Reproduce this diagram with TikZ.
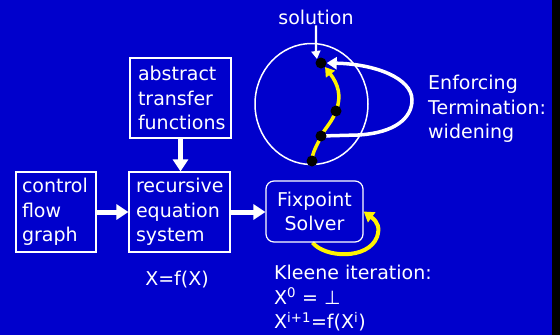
\documentclass[tikz,border=0pt]{standalone}
\usepackage{fontspec}
\setmainfont{DejaVu Sans}
\usetikzlibrary{arrows.meta,shapes.geometric}
\definecolor{bgblue}{RGB}{0,0,204}
\pgfdeclarelayer{bg}
\pgfdeclarelayer{mid}
\pgfsetlayers{bg,mid,main}
\begin{document}
\begin{tikzpicture}[x=1pt,y=-1pt,
  txt/.style={font=\fontsize{19}{24.5}\selectfont, text=white},
  box/.style={txt, draw=white, line width=1.2pt, align=left, minimum height=80pt},
  bigarrow/.style={white, line width=5pt, -{Triangle[width=15pt,length=12pt]}},
  dot/.style={circle, fill=black, inner sep=0pt, minimum size=11pt}]
\begin{pgfonlayer}{bg}
\fill[bgblue] (0,0) rectangle (552,335);
\fill[black] (552,0) rectangle (560,335);
\end{pgfonlayer}
\useasboundingbox (0,0) rectangle (560,335);

% boxes
\node[box, inner xsep=6pt, text width=68pt] (cfg) at (56,212) {control\\flow\\graph};
\node[box, inner xsep=7pt, text width=87pt] (res) at (179.5,212) {recursive\\equation\\system};
\node[box, inner xsep=8pt, text width=85pt] (atf) at (180.5,98) {abstract\\transfer\\functions};
\node[txt, draw=white, line width=1.2pt, rounded corners=8pt, align=center,
      minimum width=97pt, minimum height=61pt] (fix) at (314.5,211.5) {Fixpoint\\Solver};

\draw[bigarrow] (cfg.east) -- (res.west);
\draw[bigarrow] (atf.south) -- (atf.south |- res.north);
\draw[bigarrow] (res.east) -- (res.east -| fix.west);

% texts
\node[txt, anchor=base] (xfx) at (177,285) {X=f(X)};
\node[txt, anchor=north west, inner sep=0pt, align=left] (kleene) at (274,265)
  {Kleene iteration:\\X\textsuperscript{0} = ⊥\\X\textsuperscript{i+1}=f(X\textsuperscript{i})};
\node[txt, anchor=north west, inner sep=0pt, align=left] (enf) at (428,75)
  {Enforcing\\Termination:\\widening};
\node[txt, anchor=base, inner sep=1pt] (sol) at (316,24) {solution};

% lattice
\node[draw=white, line width=1.5pt, ellipse, minimum width=113pt, minimum height=121pt, inner sep=0pt] (lat) at (311.5,104) {};
\node[dot] (d1) at (321,63) {};
\node[dot] (d2) at (336,111) {};
\node[dot] (d3) at (321,136) {};
\node[dot] (d4) at (312,161) {};

\begin{pgfonlayer}{mid}
\draw[yellow, line width=3.5pt, -{Triangle[width=11pt,length=9pt]}]
  (d4.center) .. controls (312,152) and (318,144) .. (d3.center)
  .. controls (326,127) and (332,122) .. (d2.center)
  .. controls (342,96) and (338,84) .. (d1.south east);
\draw[white, line width=3.5pt, -{Triangle[width=12pt,length=10pt]}]
  (d3.center) -- (358,135) .. controls (395,133) and (412,118) .. (412,100)
  .. controls (412,78) and (375,64) .. (d1.east);
\draw[white, line width=2.2pt, -{Triangle[width=9pt,length=8pt]}]
  (sol.south) .. controls (316,45) and (316,52) .. (d1.north west);
\draw[yellow, line width=4pt, -{Triangle[width=12pt,length=10pt]}]
  ([xshift=-2pt]fix.south) .. controls (325,258) and (368,260) .. (377,237)
  .. controls (380,228) and (378,222) .. (fix.east);
\end{pgfonlayer}
\end{tikzpicture}
\end{document}
